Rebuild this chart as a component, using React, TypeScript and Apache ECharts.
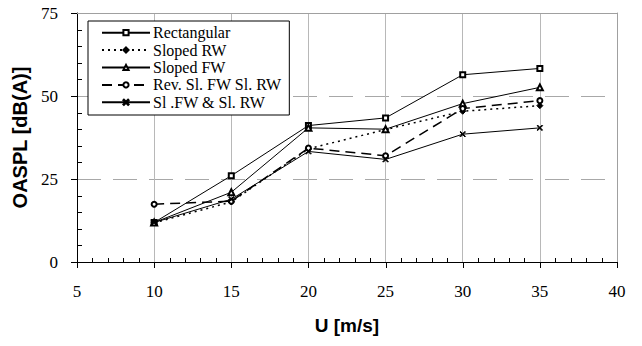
import React, { useEffect, useRef } from "react";
import * as echarts from "echarts";

const speeds = [10, 15, 20, 25, 30, 35];
const rectangular = [11.9, 26.0, 41.1, 43.4, 56.4, 58.3];
const slopedRW = [11.8, 18.1, 34.1, 39.9, 45.4, 47.1];
const slopedFW = [11.9, 21.0, 40.4, 40.0, 47.7, 52.6];
const revSlFwSlRw = [17.4, 18.3, 34.3, 32.0, 46.2, 48.6];
const slFwSlRw = [11.9, 18.9, 33.3, 30.9, 38.5, 40.4];

const seriesNames = ["Rectangular", "Sloped RW", "Sloped FW", "Rev. Sl. FW Sl. RW", "Sl .FW & Sl. RW"];

// axis tick positions (major every 5 on both axes, minor every 1 on U and every 5 on OASPL)
const xTickValues = Array.from({ length: 36 }, (_, i) => 5 + i);
const yTickValues = Array.from({ length: 16 }, (_, i) => i * 5);

const X_PATH = "path://M0,1 L1,0 L5,4 L9,0 L10,1 L6,5 L10,9 L9,10 L5,6 L1,10 L0,9 L4,5 Z";

const pair = (vals: number[]) => speeds.map((s, i) => [s, vals[i]]);

const serif = "'Liberation Serif', 'Times New Roman', serif";
const sans = "'Liberation Sans', Arial, sans-serif";

export default function App() {
  const ref = useRef<HTMLDivElement>(null);
  useEffect(() => {
    if (!ref.current) return;
    const chart = echarts.init(ref.current, undefined, { renderer: "svg" });
    const baseLine = (name: string, data: number[], symbol: string, size: number, lineType: any, width: number) => ({
      name,
      type: "line",
      data: pair(data),
      symbol,
      symbolSize: size,
      showSymbol: true,
      lineStyle: { color: "#000", width, type: lineType },
      itemStyle: { color: "#000", borderColor: "#000", borderWidth: 1 },
      emphasis: { disabled: true },
    });
    const frameAxis = (pos: string) => ({
      type: "value",
      position: pos,
      axisLine: { show: true, onZero: false, lineStyle: { color: "#a0a0a0", width: 1 } },
      axisTick: { show: false },
      axisLabel: { show: false },
      splitLine: { show: false },
    });
    chart.setOption({
      animation: false,
      grid: { left: 77, right: 25, top: 13, bottom: 84 },
      legend: {
        orient: "vertical",
        left: 88,
        top: 21,
        data: seriesNames,
        itemWidth: 48,
        itemHeight: 6.5,
        itemGap: 0,
        padding: [3, 8, 4, 13],
        borderColor: "#000",
        borderWidth: 1,
        backgroundColor: "#fff",
        textStyle: { fontFamily: serif, fontSize: 16, color: "#000", lineHeight: 17.4, padding: [0, 0, 0, -2] },
        selectedMode: false,
        z: 10,
      },
      xAxis: [
        {
          type: "value",
          min: 5,
          max: 40,
          interval: 5,
          name: "U [m/s]",
          nameLocation: "middle",
          nameGap: 54,
          nameTextStyle: { fontFamily: sans, fontWeight: "bold", fontSize: 19, color: "#000" },
          axisLine: { show: true, onZero: false, lineStyle: { color: "#000", width: 1 } },
          axisTick: { show: false },
          axisLabel: { fontFamily: serif, fontSize: 17, color: "#000", margin: 21 },
          splitLine: { show: true, lineStyle: { color: "#b8b8b8", width: 1, type: "solid" } },
        },
        { ...frameAxis("top"), min: 5, max: 40, interval: 5 },
      ],
      yAxis: [
        {
          type: "value",
          min: 0,
          max: 75,
          interval: 25,
          name: "OASPL [dB(A)]",
          nameLocation: "middle",
          nameGap: 41,
          nameTextStyle: { fontFamily: sans, fontWeight: "bold", fontSize: 20, color: "#000" },
          axisLine: { show: true, onZero: false, lineStyle: { color: "#000", width: 1 } },
          axisTick: { show: false },
          axisLabel: { fontFamily: serif, fontSize: 17, color: "#000", margin: 19 },
          splitLine: { show: true, lineStyle: { color: "#a8a8a8", width: 1, type: [24, 12] } },
        },
        { ...frameAxis("right"), min: 0, max: 75, interval: 25 },
      ],
      series: [
        baseLine(seriesNames[0], rectangular, "emptyRect", 5, "solid", 1),
        baseLine(seriesNames[1], slopedRW, "diamond", 6, [2, 4], 1.5),
        baseLine(seriesNames[2], slopedFW, "emptyTriangle", 6, "solid", 1),
        baseLine(seriesNames[3], revSlFwSlRw, "emptyCircle", 5, [10, 6], 1.5),
        baseLine(seriesNames[4], slFwSlRw, X_PATH, 5.5, "solid", 1),
        { name: "frame", type: "line", xAxisIndex: 1, yAxisIndex: 1, data: [], symbol: "none", silent: true },
        {
          name: "x-ticks",
          type: "custom",
          silent: true,
          clip: false,
          z: 5,
          data: xTickValues.map((v) => [v, 0]),
          encode: { x: 0, y: 1 },
          renderItem: (params: any, api: any) => {
            const v = api.value(0);
            const p = api.coord([v, 0]);
            const major = v % 5 === 0;
            const x = Math.round(p[0]) + 0.5;
            const y = Math.round(p[1]);
            return {
              type: "line",
              shape: major ? { x1: x, y1: y, x2: x, y2: y + 6 } : { x1: x, y1: y, x2: x, y2: y - 4 },
              style: { stroke: "#000", lineWidth: 1 },
            };
          },
        },
        {
          name: "y-ticks",
          type: "custom",
          silent: true,
          clip: false,
          z: 5,
          data: yTickValues.map((v) => [5, v]),
          encode: { x: 0, y: 1 },
          renderItem: (params: any, api: any) => {
            const v = api.value(1);
            const p = api.coord([5, v]);
            const major = v % 25 === 0;
            const x = Math.round(p[0]);
            const y = Math.round(p[1]) + 0.5;
            return {
              type: "line",
              shape: major ? { x1: x - 6, y1: y, x2: x, y2: y } : { x1: x, y1: y, x2: x + 5, y2: y },
              style: { stroke: "#000", lineWidth: 1 },
            };
          },
        },
      ],
    });
    return () => chart.dispose();
  }, []);
  return (
    <div
      ref={ref}
      style={{ position: "fixed", left: 0, top: 0, width: 642, height: 346, background: "#fff" }}
    />
  );
}
